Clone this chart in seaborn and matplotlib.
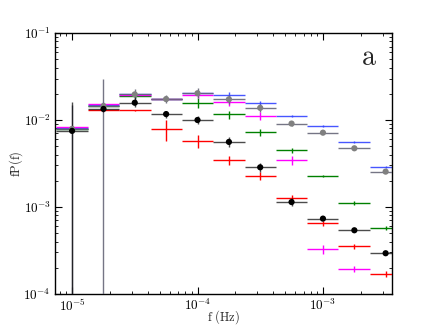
import numpy as np
import matplotlib
matplotlib.use('Agg')
import matplotlib.pyplot as plt
from matplotlib import ticker
import seaborn as sns

# frequency bins (centres and edges, Hz)
freq = [1.00e-5, 1.78e-5, 3.16e-5, 5.62e-5, 1.00e-4, 1.78e-4,
        3.16e-4, 5.62e-4, 1.00e-3, 1.78e-3, 3.16e-3]
edges = [7.5e-6, 1.33e-5, 2.37e-5, 4.22e-5, 7.5e-5, 1.33e-4,
         2.37e-4, 4.22e-4, 7.5e-4, 1.33e-3, 2.37e-3, 4.22e-3]

nan = np.nan

# fP(f) per band, lower / upper bounds
black_y = [7.5e-3, 1.34e-2, 1.58e-2, 1.17e-2, 1.0e-2, 5.6e-3, 2.86e-3, 1.14e-3, 7.35e-4, 5.4e-4, 2.94e-4]
black_lo = [5e-5, 1.25e-2, 1.41e-2, 1.06e-2, 8.9e-3, 4.9e-3, 2.55e-3, 1.03e-3, 7.0e-4, 5.2e-4, 2.8e-4]
black_hi = [1.6e-2, 1.45e-2, 1.84e-2, 1.28e-2, 1.1e-2, 6.4e-3, 3.2e-3, 1.26e-3, 7.7e-4, 5.6e-4, 3.1e-4]

grey_y = [7.9e-3, 1.45e-2, 1.97e-2, 1.74e-2, 2.03e-2, 1.73e-2, 1.38e-2, 9.1e-3, 7.15e-3, 4.73e-3, 2.55e-3]
grey_lo = [5e-5, 5e-5, 1.65e-2, 1.55e-2, 1.77e-2, 1.53e-2, 1.23e-2, 8.6e-3, 6.85e-3, 4.58e-3, 2.45e-3]
grey_hi = [1.5e-2, 3.0e-2, 2.3e-2, 1.94e-2, 2.33e-2, 1.93e-2, 1.53e-2, 9.6e-3, 7.45e-3, 4.88e-3, 2.65e-3]

blue_y = [8.2e-3, 1.5e-2, 1.98e-2, 1.76e-2, 2.05e-2, 1.94e-2, 1.56e-2, 1.11e-2, 8.5e-3, 5.55e-3, 2.9e-3]
blue_lo = [7.8e-3, 1.4e-2, 1.85e-2, 1.65e-2, 1.93e-2, 1.78e-2, 1.46e-2, 1.07e-2, 8.25e-3, 5.42e-3, 2.83e-3]
blue_hi = [8.6e-3, 1.6e-2, 2.1e-2, 1.87e-2, 2.17e-2, 2.1e-2, 1.66e-2, 1.15e-2, 8.75e-3, 5.68e-3, 2.97e-3]

green_y = [7.9e-3, 1.46e-2, 1.9e-2, 1.76e-2, 1.58e-2, 1.16e-2, 7.2e-3, 4.49e-3, 2.27e-3, 1.11e-3, 5.74e-4]
green_err = [3e-4, 5e-4, 1.2e-3, 1.2e-3, 2e-3, 1.2e-3, 7e-4, 3e-4, 8e-5, 5e-5, 3e-5]

magenta_y = [8.3e-3, 1.53e-2, 1.95e-2, 1.75e-2, 1.92e-2, 1.61e-2, 1.11e-2, 3.44e-3, 3.29e-4, 1.92e-4, nan]
magenta_err = [3e-4, 5e-4, 8e-4, 8e-4, 1.5e-3, 1.8e-3, 1.2e-3, 4e-4, 4e-5, 1.5e-5, nan]

red_y = [nan, 1.31e-2, 1.29e-2, 7.9e-3, 5.74e-3, 3.47e-3, 2.29e-3, 1.27e-3, 6.5e-4, 3.53e-4, 1.71e-4]
red_err = [nan, 3e-4, 3e-4, 2.2e-3, 1e-3, 4e-4, 2.5e-4, 9e-5, 4e-5, 2e-5, 1.3e-5]

sns.set_style('ticks')
plt.rcParams['mathtext.fontset'] = 'cm'
plt.rcParams['font.family'] = ['DejaVu Serif']

f = np.array(freq)
xerr = [f - np.array(edges[:-1]), np.array(edges[1:]) - f]


def band(ax, y, lo, hi, color, alpha=1.0, z=2):
    y = np.array(y)
    yerr = [y - np.array(lo), np.array(hi) - y]
    ax.errorbar(f, y, xerr=xerr, yerr=yerr, fmt='none', ecolor=color,
                elinewidth=1.0, capsize=0, alpha=alpha, zorder=z)


fig = plt.figure(figsize=(4.36, 3.27), dpi=100)
ax = fig.add_axes([0.126, 0.101, 0.773, 0.798])

band(ax, blue_y, blue_lo, blue_hi, '#3344ff', alpha=0.9, z=2)
band(ax, green_y, np.array(green_y) - green_err, np.array(green_y) + green_err, 'green', z=2)
band(ax, magenta_y, np.array(magenta_y) - magenta_err, np.array(magenta_y) + magenta_err, '#ff00ff', z=3)
band(ax, red_y, np.array(red_y) - red_err, np.array(red_y) + red_err, 'red', z=3)
band(ax, grey_y, grey_lo, grey_hi, '#666678', alpha=0.9, z=4)
band(ax, black_y, black_lo, black_hi, 'black', alpha=0.7, z=5)

sns.scatterplot(x=freq, y=grey_y, color='grey', s=20, edgecolor='none', ax=ax, zorder=6)
sns.scatterplot(x=freq, y=black_y, color='black', s=20, edgecolor='none', ax=ax, zorder=7)

ax.set_xscale('log')
ax.set_yscale('log')
ax.set_xlim(7.3e-6, 3.55e-3)
ax.set_ylim(1e-4, 1e-1)

fmt = ticker.FuncFormatter(lambda v, p: r'$10^{%d}$' % round(np.log10(v)))
ax.xaxis.set_major_formatter(fmt)
ax.yaxis.set_major_formatter(fmt)
ax.xaxis.set_minor_formatter(ticker.NullFormatter())
ax.yaxis.set_minor_formatter(ticker.NullFormatter())
ax.tick_params(which='both', direction='in', top=True, right=True,
               colors='black', labelsize=9.5)
ax.tick_params(which='major', length=5, width=0.8, pad=3)
ax.tick_params(which='minor', length=2.5, width=0.6)
for s in ax.spines.values():
    s.set_color('black')
    s.set_linewidth(1.0)

ax.set_xlabel(r'$\mathrm{f\ (Hz)}$', fontsize=9)
ax.set_ylabel(r'$\mathrm{fP(f)}$', fontsize=9)
ax.xaxis.set_label_coords(0.5, -0.055)
ax.yaxis.set_label_coords(-0.088, 0.5)
ax.text(0.955, 0.905, r'$\mathrm{a}$', transform=ax.transAxes,
        fontsize=20, ha='right', va='center')

plt.savefig('out.png', dpi=100)
plt.close()
